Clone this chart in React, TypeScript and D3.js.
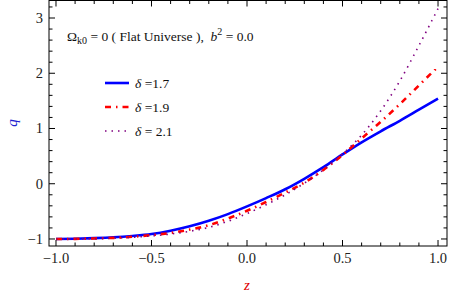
import React from 'react';
import * as d3 from 'd3';

// redshift samples
const zValues = [-1.0, -0.9, -0.8, -0.7, -0.6, -0.5, -0.4, -0.3, -0.2, -0.1, 0.0, 0.1, 0.2, 0.3, 0.4, 0.5, 0.6, 0.7, 0.8, 0.9, 1.0];
// deceleration parameter q for each delta
const qDelta17 = [-1.0, -0.995, -0.985, -0.97, -0.945, -0.91, -0.85, -0.77, -0.67, -0.55, -0.41, -0.26, -0.1, 0.09, 0.3, 0.53, 0.75, 0.95, 1.14, 1.34, 1.54];
const qDelta19 = [-1.0, -0.998, -0.99, -0.98, -0.96, -0.93, -0.89, -0.83, -0.75, -0.63, -0.49, -0.33, -0.16, 0.02, 0.25, 0.52, 0.82, 1.12, 1.44, 1.78, 2.12];
const qDelta21 = [-1.0, -1.0, -0.995, -0.985, -0.97, -0.945, -0.91, -0.86, -0.79, -0.68, -0.54, -0.38, -0.2, 0.01, 0.25, 0.54, 0.88, 1.32, 1.86, 2.5, 3.17];

const seriesLabels = ['δ =1.7', 'δ =1.9', 'δ = 2.1'];
const xTickValues = [-1.0, -0.5, 0.0, 0.5, 1.0];
const xTickLabels = ['−1.0', '−0.5', '0.0', '0.5', '1.0'];
const yTickValues = [-1, 0, 1, 2, 3];
const yTickLabels = ['−1', '0', '1', '2', '3'];

const W = 450, H = 296;
const left = 49, right = 447, top = 0.5, bottom = 246;

const App = () => {
  const x = d3.scaleLinear().domain([-1.0366, 1.047]).range([left, right]);
  const y = d3.scaleLinear().domain([-1.127, 3.317]).range([bottom, top]);

  const series = [
    { q: qDelta17, color: '#0000ff', width: 2.6, dash: null },
    { q: qDelta19, color: '#ff0000', width: 2.6, dash: '6,5,1.5,5' },
    { q: qDelta21, color: '#800080', width: 1.6, dash: '1.5,5' },
  ];

  const line = (q: number[]) =>
    d3.line<number>()
      .x((_, i) => x(zValues[i]))
      .y(d => y(d))
      .curve(d3.curveMonotoneX)(q) || '';

  // minor ticks every 0.1 on x, every 0.2 on y
  const xMinor = d3.range(-10, 11).map(i => i / 10).filter(v => !xTickValues.some(t => Math.abs(t - v) < 1e-9));
  const yMinor = d3.range(-5, 17).map(i => i / 5).filter(v => v <= 3.317 && !yTickValues.some(t => Math.abs(t - v) < 1e-9));

  const font = '"Liberation Serif", "Times New Roman", serif';

  return (
    <svg width={W} height={H} style={{ position: 'absolute', left: 0, top: 0, background: '#fff' }}>
      <defs>
        <clipPath id="plot">
          <rect x={left} y={top} width={right - left} height={bottom - top} />
        </clipPath>
      </defs>

      {/* curves */}
      <g clipPath="url(#plot)">
        {series.map((s, i) => (
          <path key={i} d={line(s.q)} fill="none" stroke={s.color} strokeWidth={s.width}
            strokeDasharray={s.dash || undefined} strokeLinecap="butt" />
        ))}
      </g>

      {/* frame */}
      <rect x={left} y={top} width={right - left} height={bottom - top} fill="none" stroke="#000" strokeWidth={1} />

      {/* x ticks bottom and top */}
      {xTickValues.map(v => (
        <g key={'xM' + v}>
          <line x1={x(v)} x2={x(v)} y1={bottom} y2={bottom - 6} stroke="#000" />
          <line x1={x(v)} x2={x(v)} y1={top} y2={top + 6} stroke="#000" />
        </g>
      ))}
      {xMinor.map(v => (
        <g key={'xm' + v}>
          <line x1={x(v)} x2={x(v)} y1={bottom} y2={bottom - 3.5} stroke="#000" />
          <line x1={x(v)} x2={x(v)} y1={top} y2={top + 3.5} stroke="#000" />
        </g>
      ))}
      {/* y ticks left and right */}
      {yTickValues.map(v => (
        <g key={'yM' + v}>
          <line x1={left} x2={left + 6} y1={y(v)} y2={y(v)} stroke="#000" />
          <line x1={right} x2={right - 6} y1={y(v)} y2={y(v)} stroke="#000" />
        </g>
      ))}
      {yMinor.map(v => (
        <g key={'ym' + v}>
          <line x1={left} x2={left + 3.5} y1={y(v)} y2={y(v)} stroke="#000" />
          <line x1={right} x2={right - 3.5} y1={y(v)} y2={y(v)} stroke="#000" />
        </g>
      ))}

      {/* tick labels */}
      {xTickValues.map((v, i) => (
        <text key={'xl' + v} x={x(v)} y={bottom + 17} textAnchor="middle" fontFamily={font} fontSize={14.5} fill="#222">
          {xTickLabels[i]}
        </text>
      ))}
      {yTickValues.map((v, i) => (
        <text key={'yl' + v} x={left - 6} y={y(v) + 5} textAnchor="end" fontFamily={font} fontSize={14.5} fill="#222">
          {yTickLabels[i]}
        </text>
      ))}

      {/* axis labels */}
      <text x={247} y={290} textAnchor="middle" fontFamily={font} fontStyle="italic" fontSize={15} fill="#e00000">z</text>
      <text transform="translate(17,123) rotate(-90)" textAnchor="middle" fontFamily={font} fontStyle="italic" fontSize={15} fill="#2020d0">q</text>

      {/* title */}
      <text x={67} y={41} fontFamily={font} fontSize={13.5} fill="#111" style={{ whiteSpace: 'pre' }}>
        Ω<tspan fontSize={10} dy={3}>k0</tspan>
        <tspan dy={-3}>{' = 0 ( Flat Universe ),  '}</tspan>
        <tspan fontStyle="italic">b</tspan>
        <tspan fontSize={10} dy={-6}>2</tspan>
        <tspan dy={6}>{' = 0.0'}</tspan>
      </text>

      {/* legend */}
      {series.map((s, i) => (
        <g key={'lg' + i} transform={`translate(0,${83 + i * 24})`}>
          <line x1={105} x2={129} y1={0} y2={0} stroke={s.color} strokeWidth={s.width}
            strokeDasharray={s.dash || undefined} />
          <text x={135} y={5} fontFamily={font} fontSize={13.5} fill="#111">
            <tspan fontStyle="italic">{seriesLabels[i].slice(0, 1)}</tspan>{seriesLabels[i].slice(1)}
          </text>
        </g>
      ))}
    </svg>
  );
};

export default App;
